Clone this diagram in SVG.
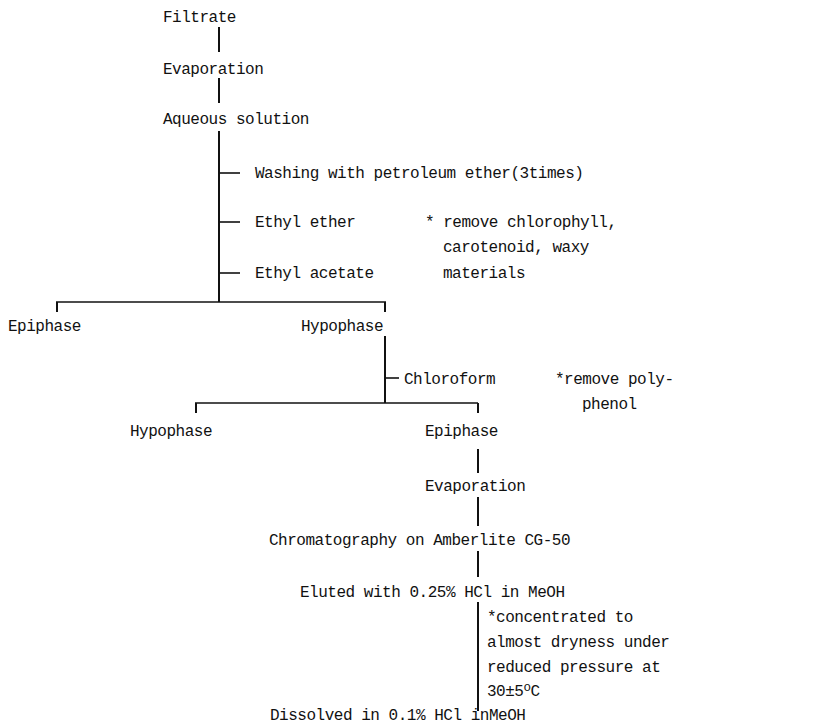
<svg xmlns="http://www.w3.org/2000/svg" width="813" height="727" viewBox="0 0 813 727">
<style>
text{font-family:"Liberation Mono","DejaVu Sans Mono",monospace;font-size:16px;letter-spacing:-0.48px;fill:#111}
.c line{stroke:#111;stroke-width:1.6;fill:none}
.c .v{stroke-width:2}
</style>
<rect width="813" height="727" fill="#fff"/>
<g class="c" id="connectors">
<line class="v" x1="219" y1="27" x2="219" y2="52"/>
<line class="v" x1="219" y1="78" x2="219" y2="103"/>
<line class="v" x1="219" y1="131" x2="219" y2="302"/>
<line x1="219" y1="173" x2="240" y2="173"/>
<line x1="219" y1="222" x2="240" y2="222"/>
<line x1="219" y1="273" x2="240" y2="273"/>
<line x1="56" y1="302" x2="386" y2="302"/>
<line class="v" x1="57" y1="302" x2="57" y2="312"/>
<line class="v" x1="385" y1="302" x2="385" y2="312"/>
<line class="v" x1="385" y1="336" x2="385" y2="403"/>
<line x1="385" y1="378" x2="399" y2="378"/>
<line x1="195" y1="403" x2="478" y2="403"/>
<line class="v" x1="196" y1="403" x2="196" y2="413"/>
<line class="v" x1="478" y1="403" x2="478" y2="413"/>
<line class="v" x1="478" y1="449" x2="478" y2="473"/>
<line class="v" x1="478" y1="497" x2="478" y2="526"/>
<line class="v" x1="478" y1="551" x2="478" y2="577"/>
<line class="v" x1="478" y1="602" x2="478" y2="711"/>
</g>
<g id="n_filtrate"><text x="163" y="22">Filtrate</text></g>
<g id="n_evap1"><text x="163" y="74">Evaporation</text></g>
<g id="n_aqueous"><text x="163" y="124">Aqueous solution</text></g>
<g id="n_washing"><text x="255" y="178">Washing with petroleum ether(3times)</text></g>
<g id="n_ethylether"><text x="255" y="227">Ethyl ether</text></g>
<g id="n_ethylacetate"><text x="255" y="278">Ethyl acetate</text></g>
<g id="n_note1"><text x="425" y="227">* remove chlorophyll,</text><text x="443" y="252">carotenoid, waxy</text><text x="443" y="278">materials</text></g>
<g id="n_epiphase1"><text x="8" y="331">Epiphase</text></g>
<g id="n_hypophase1"><text x="301" y="331">Hypophase</text></g>
<g id="n_chloroform"><text x="404" y="384">Chloroform</text></g>
<g id="n_note2"><text x="555" y="384">*remove poly-</text><text x="582" y="409">phenol</text></g>
<g id="n_hypophase2"><text x="130" y="436">Hypophase</text></g>
<g id="n_epiphase2"><text x="425" y="436">Epiphase</text></g>
<g id="n_evap2"><text x="425" y="491">Evaporation</text></g>
<g id="n_chrom"><text x="269" y="545">Chromatography on Amberlite CG-50</text></g>
<g id="n_eluted"><text x="300" y="597">Eluted with 0.25% HCl in MeOH</text></g>
<g id="n_note3"><text x="487" y="622">*concentrated to</text><text x="487" y="647">almost dryness under</text><text x="487" y="672">reduced pressure at</text><text x="487" y="696">30±5<tspan dy="-5" font-size="12.5">o</tspan><tspan dy="5">C</tspan></text></g>
<g id="n_dissolved"><text x="270" y="720">Dissolved in 0.1% HCl inMeOH</text></g>
</svg>
